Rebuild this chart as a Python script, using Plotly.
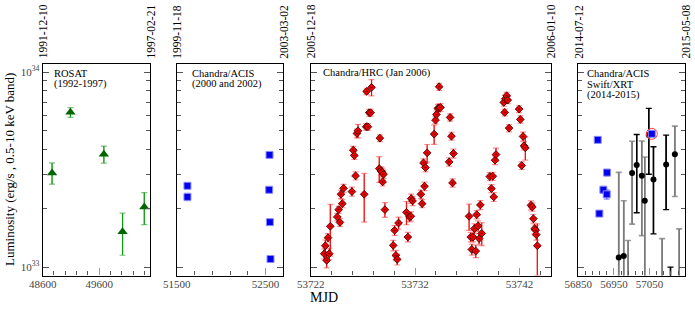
import numpy as np
import plotly.graph_objects as go

# ---------------- data (luminosity in units of 1e33 erg/s) ----------------
rosat_mjd = [48766, 49091, 49683, 50014, 50399]
rosat_lum = [3.04, 6.21, 3.79, 1.52, 2.03]
rosat_err = [0.38, 0.35, 0.38, 0.37, 0.38]

acis1_mjd = [51621, 51621, 52545, 52541, 52549, 52556]
acis1_lum = [2.61, 2.29, 3.76, 2.49, 1.70, 1.10]
acis1_err = [0.09, 0.10, 0.04, 0.03, 0.03, 0.03]

hrc_mjd = [
    53723.30, 53723.40, 53723.53, 53723.66, 53723.78, 53723.88, 53724.55, 53724.68,
    53724.80, 53724.90, 53725.03, 53725.15, 53725.95, 53726.08, 53726.18, 53726.30,
    53726.43, 53726.53, 53727.13, 53727.32, 53727.48, 53727.36, 53727.61, 53727.74,
    53727.83, 53728.63, 53728.57, 53728.73, 53728.85, 53728.98, 53728.89, 53729.11,
    53729.91, 53730.04, 53730.16, 53730.29, 53730.42, 53731.18, 53731.31, 53731.47,
    53731.60, 53731.63, 53731.76, 53732.56, 53732.68, 53732.91, 53732.81, 53733.00,
    53733.16, 53733.83, 53733.96, 53734.05, 53734.18, 53734.31, 53734.44, 53734.31,
    53735.36, 53735.49, 53735.68, 53735.27, 53735.59,
    53737.18, 53737.34, 53737.56, 53737.44, 53737.69, 53737.82, 53737.91, 53738.04,
    53738.14, 53738.26, 53738.39, 53739.16, 53739.32, 53739.45, 53739.54, 53739.67,
    53739.76, 53740.50, 53740.59, 53740.66, 53740.78, 53740.88, 53741.01, 53741.97,
    53742.09, 53742.22, 53742.35, 53742.44, 53742.57, 53743.11, 53743.24, 53743.34,
    53743.46, 53743.56, 53743.62, 53743.72,
]
hrc_lum = [
    1.171, 1.287, 1.082, 1.415, 1.171, 1.618, 1.807, 1.970,
    1.696, 2.362, 2.115, 2.536, 2.438, 3.975, 3.732, 2.935,
    4.842, 4.996, 2.362, 5.240, 5.240, 7.956, 6.182, 6.182,
    8.342, 4.581, 3.200, 3.113, 3.064, 2.992, 2.734, 1.970,
    1.292, 1.543, 1.148, 1.095, 1.683, 1.909, 1.426, 1.807,
    1.821, 2.244, 2.183, 2.362, 2.115, 2.597, 3.421, 3.238,
    3.851, 4.804, 5.666, 6.060, 6.507, 6.558, 6.580, 8.408,
    5.849, 4.691, 3.821, 3.462, 2.701,
    1.821, 1.426, 1.426, 1.232, 1.574, 1.208, 1.857, 1.624,
    1.400, 2.082, 1.489, 2.911, 2.526, 2.923, 2.289, 3.532,
    3.776, 6.986, 6.206, 7.295, 7.557, 7.180, 5.157, 6.455,
    5.713, 3.315, 4.673, 4.184, 4.086, 2.074, 2.033, 1.771,
    1.574, 1.543, 1.466, 1.287,
]
hrc_err = [
    0.07, 0.09, 0.09, 0.07, 0.08, 0.48, 0.08, 0.08,
    0.08, 0.12, 0.10, 0.12, 0.13, 0.18, 0.17, 0.14,
    0.25, 0.40, 0.66, 0.20, 0.20, 0.30, 0.25, 0.25,
    0.80, 0.18, 0.48, 0.15, 0.15, 0.15, 0.13, 0.17,
    0.08, 0.09, 0.07, 0.07, 0.12, 0.26, 0.08, 0.10,
    0.10, 0.12, 0.12, 0.12, 0.10, 0.13, 0.17, 0.16,
    0.40, 0.55, 0.25, 0.25, 0.30, 0.30, 0.30, 0.35,
    0.25, 0.22, 0.20, 0.17, 0.13,
    0.28, 0.08, 0.08, 0.08, 0.09, 0.09, 0.09, 0.10,
    0.09, 0.11, 0.20, 0.14, 0.12, 0.14, 0.12, 0.18,
    0.30, 0.30, 0.25, 0.30, 0.30, 0.30, 0.22, 0.26,
    0.24, 0.15, 0.25, 0.20, 0.55, 0.11, 0.10, 0.09,
    0.09, 0.09, 0.09, 0.38,
]

acis2_mjd = [56904.5, 56909.1, 56920.4, 56929.8, 56930.7, 57056.3]
acis2_lum = [4.49, 1.88, 2.49, 2.36, 3.05, 4.82]
acis2_err = [0.05, 0.05, 0.10, 0.13, 0.12, 0.05]

flagged_mjd = [57056.3]
flagged_lum = [4.82]

swift_a_mjd = [57013.9, 57047.8, 57061.0, 57096.6, 57108.8]
swift_a_lum = [3.34, 4.75, 2.81, 3.36, 0.50]
swift_a_err = [1.44, 1.76, 1.33, 1.39, 0.50]

swift_b_mjd = [56963.5, 56977.6, 56989.7, 57001.0, 57028.2, 57036.6, 57085.3, 57121.0, 57133.1]
swift_b_lum = [1.12, 1.14, 0.50, 3.04, 2.94, 2.19, 0.50, 3.79, 0.50]
swift_b_err = [1.94, 1.05, 0.87, 1.38, 1.49, 1.48, 0.90, 1.49, 1.07]

panel_ranges = [[48600, 50500], [51500, 52700], [53722, 53745], [56850, 57149.5]]
panel_tick0 = [48600, 51500, 53722, 56850]
panel_major = [1000, 1000, 10, 100]
panel_minor = [200, 200, 2, 20]
date_labels = [["1991-12-10", "1997-02-21"], ["1999-11-18", "2003-03-02"],
               ["2005-12-18", "2006-01-10"], ["2014-07-12", "2015-05-08"]]
panel_texts = [["ROSAT", "(1992-1997)"], ["Chandra/ACIS", "(2000 and 2002)"],
               ["Chandra/HRC (Jan 2006)"], ["Chandra/ACIS", "Swift/XRT", "(2014-2015)"]]
y_tick_vals = [1e33, 1e34]
y_tick_text = ["10<sup>33</sup>", "10<sup>34</sup>"]
y_minor_vals = [k * 1e33 for k in range(2, 10)]
y_title = "Luminosity (erg/s , 0.5-10 keV band)"
x_title = "MJD"

# ---------------- figure ----------------
W, H = 695, 313
FONT = "Liberation Serif"
SCALE = 1e33

x_dom_px = [(42.7, 150.0), (176.7, 283.3), (310.7, 550.7), (578.3, 685.0)]
y_dom = [1 - 275.5 / H, 1 - 64.0 / H]
y_range = [32.957, 34.041]

fig = go.Figure()


def add_series(i, x, y, err, marker, bar_color, cap_color, thick=1.2, cap=3):
    xa = "x" if i == 0 else f"x{i+1}"
    ya = "y" if i == 0 else f"y{i+1}"
    yv = np.array(y) * SCALE
    ev = np.array(err) * SCALE
    # caps layer
    fig.add_trace(go.Scatter(x=x, y=yv, mode="markers", xaxis=xa, yaxis=ya,
                             marker=dict(size=2, opacity=0),
                             error_y=dict(type="data", array=ev, visible=True,
                                          color=cap_color, thickness=thick, width=cap),
                             showlegend=False, hoverinfo="skip"))
    # bar + marker layer
    fig.add_trace(go.Scatter(x=x, y=yv, mode="markers", xaxis=xa, yaxis=ya,
                             marker=marker,
                             error_y=dict(type="data", array=ev, visible=True,
                                          color=bar_color, thickness=thick, width=0),
                             showlegend=False))


add_series(0, rosat_mjd, rosat_lum, rosat_err,
           dict(symbol="triangle-up", size=9, color="#006400", line=dict(width=0)),
           "#139a13", "#7cc47c")
add_series(1, acis1_mjd, acis1_lum, acis1_err,
           dict(symbol="square", size=7, color="#0000ee", line=dict(width=1, color="#8c8cff")),
           "#3a3aff", "#9a9aff")
add_series(2, hrc_mjd, hrc_lum, hrc_err,
           dict(symbol="diamond-dot", size=6, color="#ee0000", line=dict(width=0.8, color="#300000")),
           "#ee1111", "#ff8f8f")
add_series(3, swift_b_mjd, swift_b_lum, swift_b_err,
           dict(symbol="circle", size=6, color="black"),
           "#7a7a7a", "#9a9a9a", thick=1.6)
add_series(3, swift_a_mjd, swift_a_lum, swift_a_err,
           dict(symbol="circle", size=6, color="black"),
           "black", "black", thick=1.4)
add_series(3, acis2_mjd, acis2_lum, acis2_err,
           dict(symbol="square", size=7, color="#0000ee", line=dict(width=1, color="#8c8cff")),
           "#3a3aff", "#9a9aff")
fig.add_trace(go.Scatter(x=flagged_mjd, y=np.array(flagged_lum) * SCALE, mode="markers",
                         xaxis="x4", yaxis="y4",
                         marker=dict(symbol="circle-open", size=11, color="#ff4040",
                                     line=dict(width=1, color="#ff4040")),
                         showlegend=False))

layout = dict(width=W, height=H, margin=dict(l=0, r=0, t=0, b=0, autoexpand=False),
              paper_bgcolor="white", plot_bgcolor="white",
              font=dict(family=FONT, size=11, color="black"), showlegend=False)

tickc = "#555555"
for i in range(4):
    xk = "xaxis" if i == 0 else f"xaxis{i+1}"
    yk = "yaxis" if i == 0 else f"yaxis{i+1}"
    ya = "y" if i == 0 else f"y{i+1}"
    xa = "x" if i == 0 else f"x{i+1}"
    layout[xk] = dict(domain=[x_dom_px[i][0] / W, x_dom_px[i][1] / W], range=panel_ranges[i],
                      anchor=ya, tickmode="linear", tick0=panel_tick0[i], dtick=panel_major[i],
                      tickformat="d", automargin=False, ticklabelstandoff=-2,
                      ticks="inside", ticklen=7, tickwidth=1.3, tickcolor="#999999",
                      showline=True, mirror=True, linecolor="black", linewidth=1.2,
                      showgrid=False, zeroline=False,
                      tickfont=dict(family=FONT, size=11, color="#444444"),
                      minor=dict(tick0=panel_tick0[i], dtick=panel_minor[i], ticks="inside",
                                 ticklen=4, tickcolor=tickc, tickwidth=1, showgrid=False))
    layout[yk] = dict(domain=y_dom, type="log", range=y_range, anchor=xa,
                      tickmode="array", tickvals=y_tick_vals, ticktext=y_tick_text,
                      showticklabels=(i == 0), automargin=False,
                      ticks="inside", ticklen=6, tickwidth=1, tickcolor=tickc,
                      showline=True, mirror="ticks", linecolor="black", linewidth=1.2,
                      showgrid=False, zeroline=False,
                      tickfont=dict(family=FONT, size=11, color="#444444"),
                      minor=dict(tickmode="array", tickvals=y_minor_vals, ticks="inside",
                                 ticklen=4, tickcolor=tickc, tickwidth=1, showgrid=False))

annotations = []
# rotated date labels above each panel's left and right edge
for i in range(4):
    xa = "x" if i == 0 else f"x{i+1}"
    for edge, t in zip([0, 1], date_labels[i]):
        annotations.append(dict(x=edge, xref=f"{xa} domain", y=1 - 60.5 / H, yref="paper", text=t,
                                textangle=-90, showarrow=False, xanchor="center",
                                yanchor="bottom", font=dict(family=FONT, size=11.5, color="black")))
# panel labels
label_left = [52, 190, 321, 585]
label_rows = [73.0, 84.2, 95.0]
for i in range(4):
    for j, t in enumerate(panel_texts[i]):
        annotations.append(dict(x=label_left[i] / W, xref="paper", y=1 - label_rows[j] / H,
                                yref="paper", text=t, showarrow=False, xanchor="left",
                                yanchor="middle", font=dict(family=FONT, size=10.5, color="black")))
annotations.append(dict(x=324 / W, xref="paper", y=1 - 297.5 / H, yref="paper", text=x_title,
                        showarrow=False, xanchor="center", yanchor="middle",
                        font=dict(family=FONT, size=14, color="black")))
annotations.append(dict(x=10 / W, xref="paper", y=1 - 170 / H, yref="paper", text=y_title,
                        textangle=-90, showarrow=False, xanchor="center", yanchor="middle",
                        font=dict(family=FONT, size=13, color="black")))
layout["annotations"] = annotations

fig.update_layout(**layout)
fig.write_html("out.html", config={"displayModeBar": False},
               post_script="document.body.style.margin='0';document.body.style.overflow='hidden';")
